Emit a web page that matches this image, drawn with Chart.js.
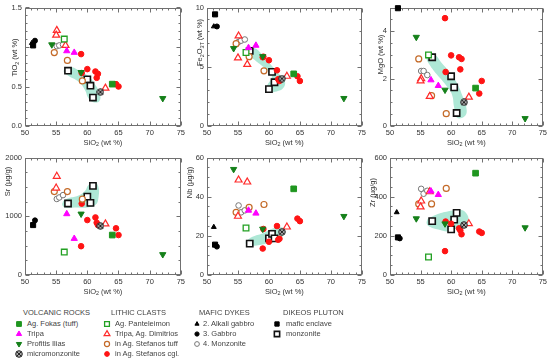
<!DOCTYPE html>
<html>
<head>
<meta charset="utf-8">
<script src="https://cdn.jsdelivr.net/npm/chart.js"></script>
<style>
  body { margin: 0; background: #fff; overflow: hidden; font-family: "Liberation Sans", Arial, sans-serif; }
  #wrap { position: relative; width: 550px; height: 361px; }
  #wrap canvas { position: absolute; }
  .lg { position: absolute; font-size: 7.5px; color: #444; white-space: nowrap; line-height: 10px; }
</style>
</head>
<body>
<div id="wrap"></div>
<script>
// one row per sample: SiO2, TiO2, Fe2O3T, MgO, Sr, Nb, Zr  (null = not analysed / not shown)
const agFokas = [[64.0, 0.53, 4.4, 1.6, 680, 44, 520]];
const tripa = [[56.7, 0.95, 6.6, 1.94, 1040, 33, 428], [57.9, 0.93, 6.8, 1.7, 620, 31.5, 410]];
const profitisIlias = [[54.3, 1.03, 6.55, 3.75, null, 54, 288], [59.0, 0.68, 5.87, 1.52, 1040, 23.5, 262], [72.1, 0.35, 2.34, 0.32, 350, 30, 242]];
const micromonzonite = [[62.1, 0.43, 4.0, 1.0, 835, 22, 255]];
const agPanteleimon = [[56.3, 1.10, 6.2, 3.0, 390, 24, 92]];
const tripaDimitrios = [[55.1, 1.21, 7.6, 2.0, 1680, 48.5, 378], [55.0, 1.15, 5.75, 1.9, 1480, 30, 348], [56.5, 1.02, 5.2, 1.25, null, 47.5, 425], [62.9, 0.48, 4.2, 1.22, 870, 24.5, 262]];
const stefanosTuff = [[54.7, 0.93, 6.95, 2.83, 1420, 32, 363], [56.8, 0.83, 5.85, 1.28, 1420, 34.5, 363], [59.2, 0.57, 4.66, 0.52, 1290, 36, 442]];
const stefanosCgl = [
  [59.0, 0.91, 5.8, 4.55, 490, 13.5, 122], [59.1, 0.67, 5.85, 2.28, 1215, 23.5, 273],
  [60.0, 0.72, 5.55, 2.98, 935, 17, 262], [61.3, 0.69, 4.7, 2.9, 980, 25, 238],
  [61.5, 0.61, 3.95, 2.39, 890, 18, 228], [61.7, 0.66, 3.8, 2.83, 850, 18.5, 208],
  [64.6, 0.53, 4.2, 1.37, 795, 28.8, 222], [65.0, 0.50, 3.8, 1.9, 680, 27.5, 215]];
const alkaliGabbro = [[51.1, 1.05, 8.4, null, null, 24.5, 320]];
const gabbro = [[51.6, 1.08, 8.4, null, 930, 14.5, 187]];
const monzoniteDyke = [[55.1, 1.01, 7.1, 2.32, 1294, 35.5, 440], [55.5, 1.02, 7.2, 2.32, 1320, 32, 415], [56.1, 1.03, 7.3, 2.15, 1360, 33, 430]];
const maficEnclave = [[51.3, 1.02, 9.42, 4.97, 850, 15.5, 192]];
const monzonitePluton = [[56.9, 0.70, 6.34, 2.9, 1217, 16, 275], [60.0, 0.59, 3.11, 2.1, 1333, 18.7, 233], [60.5, 0.51, 4.57, 1.63, 1228, 21, 283], [60.9, 0.36, 3.69, 0.55, 1517, 18.7, 317]];

// outlines of the shaded pluton fields (SiO2, value)
const tio2Field = [[56.25,0.715],[57.48,0.744],[58.81,0.694],[60.15,0.632],[61.22,0.529],[62.02,0.405],[61.91,0.314],[60.95,0.302],[60.15,0.355],[59.62,0.455],[58.55,0.562],[56.94,0.636],[56.25,0.682]];
const fe2o3Field = [[56.53,6.5],[57.56,6.61],[58.96,6.01],[60.42,5.1],[61.77,4.3],[62.58,3.8],[62.31,3.2],[61.23,2.92],[59.77,2.92],[59.72,3.39],[60.48,4.13],[60.04,4.55],[58.53,5.23],[57.02,5.87],[56.48,6.23]];
const mgoField = [[55.9,3.03],[57.21,3.03],[58.46,2.66],[59.83,2.25],[60.92,1.83],[61.9,1.24],[62.55,0.66],[62.12,0.39],[60.92,0.36],[60.48,0.8],[60.1,1.35],[59.01,1.77],[57.64,2.18],[56.28,2.66],[55.9,2.9]];
const srField = [[56.14,1261],[56.94,1306],[58.39,1344],[59.62,1428],[60.15,1528],[61.11,1583],[61.75,1511],[61.81,1333],[61.32,1194],[59.99,1150],[58.28,1150],[56.41,1150],[55.98,1194]];
const nbField = [[56.26,17.2],[57.34,19.5],[58.96,21.2],[60.42,23.5],[61.66,24.5],[62.58,23.2],[62.31,20],[61.23,17.8],[59.72,16.2],[57.72,15],[56.37,15.5]];
const zrField = [[56.17,287],[57.53,308],[59.55,325],[61.35,333],[62.45,317],[62.83,275],[62.12,245],[60.92,238],[59.55,222],[57.91,232],[56.55,245],[56,263]];

// tick labels
const sio2Ticks = [50, 55, 60, 65, 70, 75];
const tio2Ticks = [0, 0.5, 1, 1.5];
const tio2Labels = ['0.0', '0.5', '', '1.5'];
const fe2o3Ticks = [0, 5, 10];
const mgoTicks = [0, 2, 4];
const srTicks = [0, 1000, 2000];
const nbTicks = [0, 20, 40, 60];
const zrTicks = [0, 200, 400, 600];

const FONT = '"Liberation Sans", Arial, sans-serif';
const FIELD = '#aee8d6';

function microIcon(size) {
  const c = document.createElement('canvas');
  c.width = c.height = size;
  const g = c.getContext('2d'), m = size / 2, r = size / 2 - 0.7;
  g.beginPath(); g.arc(m, m, r, 0, Math.PI * 2);
  g.fillStyle = '#a8a8a8'; g.fill();
  g.strokeStyle = '#222'; g.lineWidth = 1; g.stroke();
  const d = r * 0.7;
  g.beginPath();
  g.moveTo(m - d, m - d); g.lineTo(m + d, m + d);
  g.moveTo(m + d, m - d); g.lineTo(m - d, m + d);
  g.stroke();
  return c;
}

const series = [
  { name: 'Ag. Fokas (tuff)', group: 0, rows: agFokas, style: 'rect', r: 4, fill: '#1f961f', stroke: '#1f961f', bw: 1 },
  { name: 'Tripa', group: 0, rows: tripa, style: 'triangle', r: 3.6, fill: '#ff00ff', stroke: '#ff00ff', bw: 1 },
  { name: 'Profitis Ilias', group: 0, rows: profitisIlias, style: 'triangle', rot: 180, r: 3.6, fill: '#15801a', stroke: '#15801a', bw: 1 },
  { name: 'micromonzonite', group: 0, rows: micromonzonite, style: microIcon(8), r: 4, fill: '#999', stroke: '#222', bw: 1 },
  { name: 'Ag. Panteleimon', group: 1, rows: agPanteleimon, style: 'rect', r: 4, fill: '#fff', stroke: '#22a022', bw: 1.3 },
  { name: 'Tripa, Ag. Dimitrios', group: 1, rows: tripaDimitrios, style: 'triangle', r: 4, fill: '#fff', stroke: '#ff2a2a', bw: 1.2 },
  { name: 'in Ag. Stefanos tuff', group: 1, rows: stefanosTuff, style: 'circle', r: 3, fill: '#fff', stroke: '#c46a28', bw: 1.2 },
  { name: 'in Ag. Stefanos cgl.', group: 1, rows: stefanosCgl, style: 'circle', r: 2.8, fill: '#ff1414', stroke: '#ff1414', bw: 1 },
  { name: '2. Alkali gabbro', group: 2, rows: alkaliGabbro, style: 'triangle', r: 2.8, fill: '#000', stroke: '#000', bw: 1 },
  { name: '3. Gabbro', group: 2, rows: gabbro, style: 'circle', r: 2.5, fill: '#000', stroke: '#000', bw: 1 },
  { name: '4. Monzonite', group: 2, rows: monzoniteDyke, style: 'circle', r: 2.8, fill: '#fff', stroke: '#777', bw: 1 },
  { name: 'mafic enclave', group: 3, rows: maficEnclave, style: 'rect', r: 3.6, fill: '#000', stroke: '#000', bw: 1 },
  { name: 'monzonite', group: 3, rows: monzonitePluton, style: 'rect', r: 4.4, fill: '#fff', stroke: '#111', bw: 1.6 }
];

const groups = ['VOLCANIC ROCKS', 'LITHIC CLASTS', 'MAFIC DYKES', 'DIKEOS PLUTON'];

// area = chart area in page pixels [left, top, right, bottom]; yt = y title centre relative to area
const panels = [
  { col: 1, area: [25, 5, 181, 126], min: 0, max: 1.5, ticks: tio2Ticks, labels: tio2Labels, minor: 0.1, field: tio2Field, yt: [-10, 50], title: [['TiO'], ['2', 1], [' (wt %)']] },
  { col: 2, area: [207, 5, 362, 126], min: 0, max: 10, ticks: fe2o3Ticks, minor: 1, field: fe2o3Field, yt: [-7, 35], title: [['Fe'], ['2', 1], ['O'], ['3T', 1], [' (wt %)']] },
  { col: 3, area: [390, 5, 543, 126], min: 0, max: 5, ticks: mgoTicks, minor: 0.5, field: mgoField, yt: [-9, 47], title: [['MgO (wt %)']] },
  { col: 4, area: [25, 155, 181, 275], min: 0, max: 2000, ticks: srTicks, minor: 250, field: srField, yt: [-17, 24], title: [['Sr (µg/g)']] },
  { col: 5, area: [207, 155, 362, 275], min: 0, max: 60, ticks: nbTicks, minor: 5, field: nbField, yt: [-17, 25], title: [['Nb (µg/g)']] },
  { col: 6, area: [390, 155, 543, 275], min: 0, max: 600, ticks: zrTicks, minor: 50, field: zrField, yt: [-17, 35], title: [['Zr (µg/g)']] }
];

function drawRich(ctx, segs, x, y, size) {
  const widths = segs.map(([t, sub]) => {
    ctx.font = (sub ? size * 0.72 : size) + 'px ' + FONT;
    return ctx.measureText(t).width;
  });
  let cx = x - widths.reduce((a, b) => a + b, 0) / 2;
  segs.forEach(([t, sub], i) => {
    ctx.font = (sub ? size * 0.72 : size) + 'px ' + FONT;
    ctx.fillText(t, cx, y + (sub ? size * 0.3 : 0));
    cx += widths[i];
  });
}

const framePlugin = {
  id: 'frame',
  beforeDatasetsDraw(chart, args, o) {
    const { ctx, chartArea: a, scales: { x, y } } = chart;
    const L = Math.round(a.left) + 0.5, R = Math.round(a.right) - 0.5;
    const T = Math.round(a.top) + 0.5, B = Math.round(a.bottom) - 0.5;
    ctx.save();
    ctx.strokeStyle = '#707070';
    ctx.lineWidth = 1;
    ctx.strokeRect(L, T, R - L, B - T);
    ctx.beginPath();
    for (let v = 50; v <= 75.001; v += 1) {
      const px = Math.round(x.getPixelForValue(v)) + 0.5;
      const len = Math.abs(v % 5) < 1e-6 ? 4 : 2;
      ctx.moveTo(px, B); ctx.lineTo(px, B - len);
      ctx.moveTo(px, T); ctx.lineTo(px, T + len);
    }
    const major = o.ticks[1] - o.ticks[0];
    for (let v = o.min; v <= o.max + 1e-9; v += o.minor) {
      const py = Math.round(y.getPixelForValue(v)) + 0.5;
      const r = v / major;
      const len = Math.abs(r - Math.round(r)) < 1e-6 ? 4 : 2;
      ctx.moveTo(L, py); ctx.lineTo(L + len, py);
      ctx.moveTo(R, py); ctx.lineTo(R - len, py);
    }
    ctx.stroke();
    ctx.restore();
  },
  afterDraw(chart, args, o) {
    const { ctx, chartArea: a } = chart;
    ctx.save();
    ctx.fillStyle = '#333';
    ctx.textBaseline = 'middle';
    ctx.textAlign = 'left';
    drawRich(ctx, [['SiO'], ['2', 1], [' (wt %)']], (a.left + a.right) / 2, a.bottom + 16.5, 7.5);
    ctx.translate(a.left + o.yt[0], a.top + o.yt[1]);
    ctx.rotate(-Math.PI / 2);
    drawRich(ctx, o.title, 0, 0, 7.5);
    ctx.restore();
  }
};

const wrap = document.getElementById('wrap');

panels.forEach(p => {
  const [l, t, r, b] = p.area;
  const cv = document.createElement('canvas');
  cv.width = r - l + 25 + 6;
  cv.height = b - t + 5 + 24;
  cv.style.left = (l - 25) + 'px';
  cv.style.top = (t - 5) + 'px';
  wrap.appendChild(cv);

  const datasets = series.map(s => ({
    label: s.name,
    data: s.rows.filter(row => row[p.col] != null).map(row => ({ x: row[0], y: row[p.col] })),
    pointStyle: s.style,
    pointRadius: s.r,
    pointRotation: s.rot || 0,
    backgroundColor: s.fill,
    borderColor: s.stroke,
    pointBorderWidth: s.bw,
    clip: false
  }));
  datasets.push({
    label: 'field',
    data: p.field.concat([p.field[0]]).map(([x, y]) => ({ x, y })),
    showLine: true,
    fill: 'shape',
    tension: 0.45,
    backgroundColor: FIELD,
    borderColor: FIELD,
    borderWidth: 0,
    pointRadius: 0
  });

  const tickFont = { family: FONT, size: 7.5 };
  new Chart(cv, {
    type: 'scatter',
    data: { datasets },
    options: {
      responsive: false,
      animation: false,
      devicePixelRatio: 1,
      events: [],
      layout: { padding: { top: 5, right: 6, left: 0, bottom: 0 } },
      plugins: {
        legend: { display: false },
        tooltip: { enabled: false },
        frame: { min: p.min, max: p.max, minor: p.minor, ticks: p.ticks, yt: p.yt, title: p.title }
      },
      scales: {
        x: {
          type: 'linear', min: 50, max: 75,
          grid: { display: false, drawTicks: false },
          border: { display: false },
          ticks: { font: tickFont, color: '#333', padding: 2, maxRotation: 0, autoSkip: false, callback: v => String(v) },
          afterBuildTicks: s => { s.ticks = sio2Ticks.map(v => ({ value: v })); },
          afterFit: s => { s.height = 24; }
        },
        y: {
          type: 'linear', min: p.min, max: p.max,
          grid: { display: false, drawTicks: false },
          border: { display: false },
          ticks: { font: tickFont, color: '#333', padding: 3, autoSkip: false,
                   callback: (v, i) => p.labels ? p.labels[i] : String(v) },
          afterBuildTicks: s => { s.ticks = p.ticks.map(v => ({ value: v })); },
          afterFit: s => { s.width = 25; }
        }
      }
    },
    plugins: [framePlugin]
  });
});

// legend
const colX = [[23, 19, 27], [111, 107, 115], [199, 196.5, 203], [283, 277, 286]];
const rowY = [324, 334, 344, 354.3];

function addText(txt, x, yc) {
  const d = document.createElement('div');
  d.className = 'lg';
  d.textContent = txt;
  d.style.left = x + 'px';
  d.style.top = (yc - 5) + 'px';
  wrap.appendChild(d);
}

groups.forEach((g, gi) => {
  addText(g, colX[gi][0], 313.3);
  series.filter(s => s.group === gi).forEach((s, k) => {
    const y = rowY[k];
    const c = document.createElement('canvas');
    c.width = c.height = 12;
    c.style.left = (colX[gi][1] - 6) + 'px';
    c.style.top = (y - 6) + 'px';
    wrap.appendChild(c);
    const ctx = c.getContext('2d');
    ctx.fillStyle = s.fill;
    ctx.strokeStyle = s.stroke;
    ctx.lineWidth = s.bw;
    if (Chart.helpers && Chart.helpers.drawPoint) {
      Chart.helpers.drawPoint(ctx, { pointStyle: s.style, radius: s.r * 0.85, rotation: s.rot || 0, borderWidth: s.bw }, 6, 6);
    }
    addText(s.name, colX[gi][2], y);
  });
});
</script>
</body>
</html>
